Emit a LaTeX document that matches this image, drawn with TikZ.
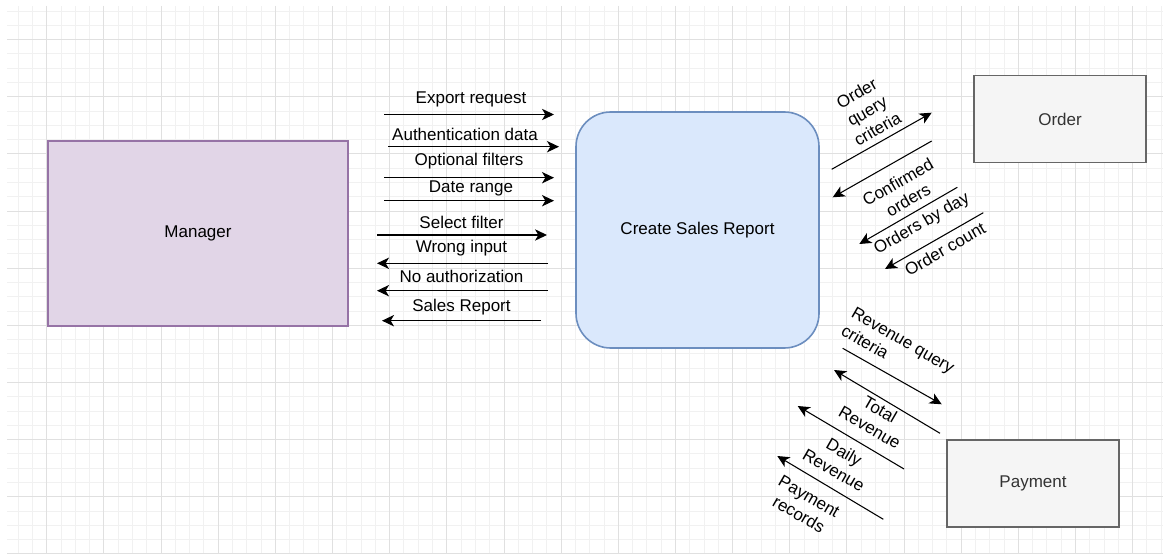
\documentclass[tikz,border=0pt]{standalone}
\usepackage{fontspec}
\setmainfont{Liberation Sans}
\usetikzlibrary{arrows.meta, positioning, calc}
\definecolor{gridminor}{HTML}{F1F1F1}
\definecolor{gridmajor}{HTML}{E0E0E0}
\definecolor{actorfill}{HTML}{E1D5E7}
\definecolor{actorline}{HTML}{9673A6}
\definecolor{procfill}{HTML}{DAE8FC}
\definecolor{procline}{HTML}{6C8EBF}
\definecolor{storefill}{HTML}{F5F5F5}
\definecolor{storeline}{HTML}{666666}
\definecolor{storetext}{HTML}{333333}

\tikzset{
  flow/.style={-{Stealth[length=9pt, width=8.5pt, inset=2.5pt]}, line width=0.8pt},
  flowlabel/.style={inner sep=0pt, align=center},
  store/.style={draw=storeline, fill=storefill, text=storetext, line width=1.2pt,
                minimum width=129pt, minimum height=65pt},
}

% flat flow: name, x from, x to, y, label x, label y, text
\newcommand{\hflow}[7]{%
  \coordinate (#1-a) at (#2,#4);
  \coordinate (#1-b) at (#3,#4);
  \draw[flow] (#1-a) -- (#1-b);
  \node[flowlabel] (#1-l) at (#5,#6) {#7};}

% slanted flow: name, from, to, label at, angle, align, text
\newcommand{\dflow}[7]{%
  \coordinate (#1-a) at (#2);
  \coordinate (#1-b) at (#3);
  \draw[flow] (#1-a) -- (#1-b);
  \node[flowlabel, rotate=#5, align=#6] (#1-l) at (#4) {#7};}

\begin{document}
\begin{tikzpicture}[x=0.75pt, y=-0.75pt, font=\fontsize{12.75}{15.5}\selectfont]
  \useasboundingbox (0,0) rectangle (1163,555);
  % background grid
  \foreach \k in {-2,...,78}
    \draw[gridminor, line width=0.75pt] ({46.8+14.2875*\k},6) -- ({46.8+14.2875*\k},554);
  \foreach \k in {-2,...,36}
    \draw[gridminor, line width=0.75pt] (7,{39.6+14.2875*\k}) -- (1163,{39.6+14.2875*\k});
  \foreach \k in {0,...,19}
    \draw[gridmajor, line width=0.75pt] ({46.8+57.15*\k},6) -- ({46.8+57.15*\k},554);
  \foreach \k in {0,...,9}
    \draw[gridmajor, line width=0.75pt] (7,{39.6+57.15*\k}) -- (1163,{39.6+57.15*\k});

  % entities and process
  \node[draw=actorline, fill=actorfill, line width=1.2pt,
        minimum width=225pt, minimum height=138.75pt] (manager) at (198,233.5) {Manager};
  \node[draw=procline, fill=procfill, line width=1.2pt, rounded corners=26pt,
        minimum width=182.25pt, minimum height=177pt] (report) at (697.5,230) {Create Sales Report};
  \node[store] (order) at (1060,119) {Order};
  \node[store] (payment) at (1033,483.5) {Payment};

  % manager <-> process
  \hflow{export}{384}{554}{114.5}{471}{99.5}{Export request}
  \hflow{auth}{388}{559}{146.7}{465}{134}{Authentication data}
  \hflow{filters}{384}{554}{177.7}{469}{161.5}{Optional filters}
  \hflow{range}{384}{554}{200.7}{471}{188.3}{Date range}
  \hflow{select}{377}{547}{235}{461.5}{222.7}{Select filter}
  \hflow{wrong}{548}{377}{263.3}{461.5}{248.3}{Wrong input}
  \hflow{noauth}{548}{377}{290.7}{461.5}{276.7}{No authorization}
  \hflow{sales}{541}{382}{320.7}{461.5}{306.7}{Sales Report}

  % process <-> order
  \dflow{query}{831.7,169.3}{931.7,112.7}{867,111}{30}{center}{Order\\query\\criteria}
  \dflow{confirmed}{931.7,141}{832.7,197.3}{903,191}{30}{center}{Confirmed\\orders}
  \dflow{byday}{957.3,187.3}{859.3,244}{922,224}{30}{center}{Orders by day}
  \dflow{count}{983.3,212.7}{885,269}{945,249}{30}{center}{Order count}

  % process <-> payment
  \dflow{revquery}{842.7,348.3}{941.7,404.3}{898,349}{-30}{left}{Revenue query\\criteria}
  \dflow{total}{940,433.3}{834,370}{875,418.5}{-30}{center}{Total\\Revenue}
  \dflow{daily}{904,469}{797.7,406}{839,461}{-30}{center}{Daily\\Revenue}
  \dflow{records}{883.3,519.3}{777.3,456}{804,505.5}{-30}{center}{Payment\\records}
\end{tikzpicture}
\end{document}
